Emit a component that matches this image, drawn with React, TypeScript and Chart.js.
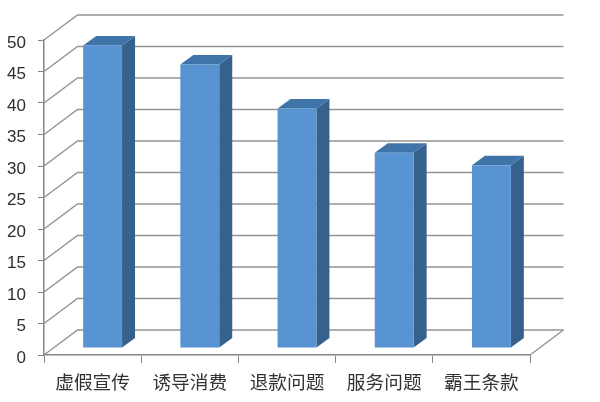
import React, { useEffect, useRef } from "react";
import { Chart, registerables } from "chart.js";

Chart.register(...registerables);

const categories = ["虚假宣传", "诱导消费", "退款问题", "服务问题", "霸王条款"];
const values = [48, 45, 38, 31, 29];
const yMax = 50;
const yStep = 5;

const wallDepth = { x: 33.5, y: -25 };
const barShift = { x: 10, y: -7 };
const barDepth = { x: 13, y: -9.5 };
const lineColor = "#959595";
const axisColor = "#858585";

const walls3d = {
  id: "walls3d",
  beforeDatasetsDraw(chart: any) {
    const { ctx, chartArea, scales } = chart;
    const { left, right, bottom } = chartArea;
    ctx.save();
    ctx.lineWidth = 1.5;
    ctx.strokeStyle = lineColor;
    scales.y.ticks.forEach((t: any) => {
      const y = scales.y.getPixelForValue(t.value);
      ctx.beginPath();
      ctx.moveTo(left, y);
      ctx.lineTo(left + wallDepth.x, y + wallDepth.y);
      ctx.lineTo(right + wallDepth.x, y + wallDepth.y);
      ctx.stroke();
    });
    ctx.beginPath();
    ctx.moveTo(right, bottom);
    ctx.lineTo(right + wallDepth.x, bottom + wallDepth.y);
    ctx.stroke();
    ctx.restore();
  },
};

const bars3d = {
  id: "bars3d",
  beforeDatasetDraw(chart: any, args: any) {
    const { ctx } = chart;
    ctx.save();
    ctx.translate(barShift.x, barShift.y);
    args.meta.data.forEach((bar: any) => {
      const p = bar.getProps(["x", "y", "base", "width"], true);
      const l = p.x - p.width / 2;
      const r = p.x + p.width / 2;
      ctx.fillStyle = "#35618c";
      ctx.beginPath();
      ctx.moveTo(r, p.y);
      ctx.lineTo(r + barDepth.x, p.y + barDepth.y);
      ctx.lineTo(r + barDepth.x, p.base + barDepth.y);
      ctx.lineTo(r, p.base);
      ctx.closePath();
      ctx.fill();
      ctx.fillStyle = "#3f74a9";
      ctx.beginPath();
      ctx.moveTo(l, p.y);
      ctx.lineTo(l + barDepth.x, p.y + barDepth.y);
      ctx.lineTo(r + barDepth.x, p.y + barDepth.y);
      ctx.lineTo(r, p.y);
      ctx.closePath();
      ctx.fill();
    });
  },
  afterDatasetDraw(chart: any) {
    chart.ctx.restore();
  },
};

export default function App() {
  const ref = useRef<HTMLCanvasElement>(null);
  useEffect(() => {
    const chart = new Chart(ref.current!, {
      type: "bar",
      data: {
        labels: categories,
        datasets: [
          {
            data: values,
            backgroundColor: "#5794d1",
            barPercentage: 0.4,
            categoryPercentage: 1,
            clip: false,
          } as any,
        ],
      },
      options: {
        responsive: false,
        animation: false,
        devicePixelRatio: 1,
        events: [],
        layout: { padding: { top: 40, right: 70, left: 0, bottom: 0 } },
        plugins: { legend: { display: false }, tooltip: { enabled: false }, title: { display: false } },
        scales: {
          x: {
            afterFit: (s: any) => {
              s.height = 47;
            },
            border: { color: axisColor, width: 1.5 },
            grid: { drawOnChartArea: false, offset: true, color: axisColor, tickLength: 8 },
            ticks: {
              color: "#333333",
              maxRotation: 0,
              padding: 8,
              font: { family: "'Noto Sans CJK SC'", size: 18.7 },
            },
          },
          y: {
            min: 0,
            max: yMax,
            afterFit: (s: any) => {
              s.width = 44;
            },
            border: { color: axisColor, width: 1.5 },
            grid: { drawOnChartArea: false, color: axisColor, tickLength: 6 },
            ticks: {
              stepSize: yStep,
              color: "#2e2e2e",
              padding: 12,
              labelOffset: 3,
              font: { family: "'Liberation Sans'", size: 17 },
            },
          },
        },
      },
      plugins: [walls3d, bars3d],
    } as any);
    return () => chart.destroy();
  }, []);
  return (
    <div style={{ position: "fixed", left: 0, top: 0, width: 600, height: 402, background: "#fff" }}>
      <canvas ref={ref} width={600} height={402} style={{ display: "block", filter: "blur(0.4px)" }} />
    </div>
  );
}
